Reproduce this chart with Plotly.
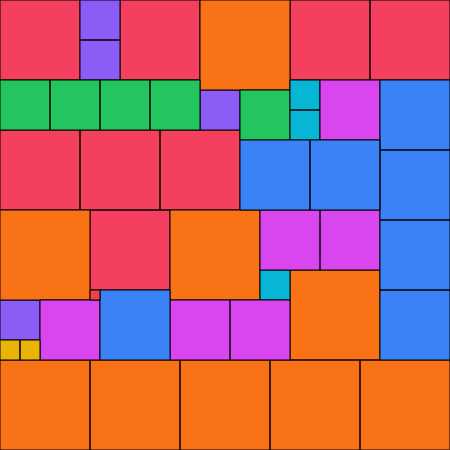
import plotly.graph_objects as go

# Square packing data (grid units): group, left, top, side
groups = ["rose", "violet", "violet", "rose", "orange", "rose", "rose",
          "green", "green", "green", "green", "violet", "green", "cyan", "cyan", "fuchsia", "blue",
          "rose", "rose", "rose", "blue", "blue", "blue",
          "orange", "rose", "orange", "fuchsia", "fuchsia", "blue",
          "cyan", "orange", "blue", "red", "blue",
          "violet", "fuchsia", "fuchsia", "fuchsia", "yellow", "yellow",
          "orange", "orange", "orange", "orange", "orange"]
x0 = [0, 8, 8, 12, 20, 29, 37,
      0, 5, 10, 15, 20, 24, 29, 29, 32, 38,
      0, 8, 16, 24, 31, 38,
      0, 9, 17, 26, 32, 38,
      26, 29, 38, 9, 10,
      0, 4, 17, 23, 0, 2,
      0, 9, 18, 27, 36]
y0 = [0, 0, 4, 0, 0, 0, 0,
      8, 8, 8, 8, 9, 9, 8, 11, 8, 8,
      13, 13, 13, 14, 14, 15,
      21, 21, 21, 21, 21, 22,
      27, 27, 29, 29, 29,
      30, 30, 30, 30, 34, 34,
      36, 36, 36, 36, 36]
side = [8, 4, 4, 8, 9, 8, 8,
        5, 5, 5, 5, 4, 5, 3, 3, 6, 7,
        8, 8, 8, 7, 7, 7,
        9, 8, 9, 6, 6, 7,
        3, 9, 7, 1, 7,
        4, 6, 6, 6, 2, 2,
        9, 9, 9, 9, 9]

palette = {
    "rose": "#F43F5E", "violet": "#8B5CF6", "orange": "#F97316",
    "green": "#22C55E", "cyan": "#06B6D4", "fuchsia": "#D946EF",
    "blue": "#3B82F6", "yellow": "#EAB308", "red": "#EF4444",
}

fig = go.Figure()
for g in palette:
    xs, ys = [], []
    for gi, a, b, s in zip(groups, x0, y0, side):
        if gi != g:
            continue
        xs += [a, a + s, a + s, a, a, None]
        ys += [b, b, b + s, b + s, b, None]
    if not xs:
        continue
    fig.add_trace(go.Scatter(
        x=xs, y=ys, mode="lines", fill="toself", fillcolor=palette[g],
        line=dict(color="black", width=1), name=g, hoverinfo="skip",
        showlegend=False,
    ))

fig.update_layout(
    width=450, height=450, margin=dict(l=0, r=0, t=0, b=0),
    paper_bgcolor="white", plot_bgcolor="white",
    xaxis=dict(range=[0, 45], visible=False, fixedrange=True),
    yaxis=dict(range=[45, 0], visible=False, fixedrange=True),
    showlegend=False,
)
fig.write_html(
    "out.html",
    config={"displayModeBar": False},
    post_script="document.body.style.margin='0';document.body.style.overflow='hidden';",
)
